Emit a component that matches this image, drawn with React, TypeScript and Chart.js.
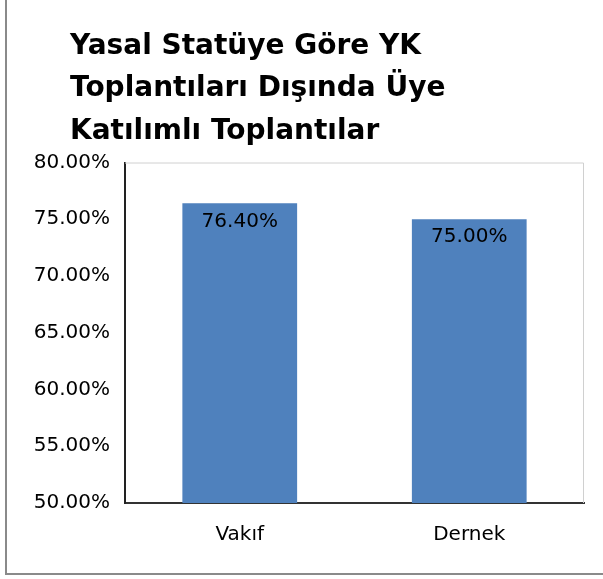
import React, { useEffect, useRef } from "react";
import { Chart, registerables } from "chart.js";

Chart.register(...registerables);

const titleLines = ["Yasal Statüye Göre YK", "Toplantıları Dışında Üye", "Katılımlı Toplantılar"];
const categories = ["Vakıf", "Dernek"];
const values = [0.764, 0.75];
const yMin = 0.5;
const yMax = 0.8;
const yStep = 0.05;

const fmtPct = (v: number) => (v * 100).toFixed(2) + "%";

const titleOffsetPlugin = {
  id: "titleOffset",
  afterLayout(chart: any) {
    if (chart.titleBlock) {
      chart.titleBlock.left = 70;
    }
  },
};

const plotFramePlugin = {
  id: "plotFrame",
  beforeDatasetsDraw(chart: any) {
    const { ctx, chartArea } = chart;
    ctx.save();
    ctx.strokeStyle = "#d0d0d0";
    ctx.lineWidth = 1;
    ctx.beginPath();
    ctx.moveTo(chartArea.left, chartArea.top + 0.5);
    ctx.lineTo(chartArea.right - 0.5, chartArea.top + 0.5);
    ctx.lineTo(chartArea.right - 0.5, chartArea.bottom);
    ctx.stroke();
    ctx.restore();
  },
};

const dataLabelPlugin = {
  id: "dataLabels",
  afterDatasetsDraw(chart: any) {
    const { ctx } = chart;
    const meta = chart.getDatasetMeta(0);
    ctx.save();
    ctx.font = "20px 'DejaVu Sans'";
    ctx.fillStyle = "#000";
    ctx.textAlign = "center";
    ctx.textBaseline = "middle";
    meta.data.forEach((bar: any, i: number) => {
      ctx.fillText(fmtPct(values[i]), bar.x, bar.y + 18);
    });
    ctx.restore();
  },
};

export default function App() {
  const ref = useRef<HTMLCanvasElement>(null);
  useEffect(() => {
    if (!ref.current) return;
    const chart = new Chart(ref.current, {
      type: "bar",
      data: {
        labels: categories,
        datasets: [
          {
            data: values,
            backgroundColor: "#4F81BD",
            borderWidth: 0,
            barPercentage: 0.5,
            categoryPercentage: 1,
          },
        ],
      },
      options: {
        animation: false,
        responsive: false,
        layout: { padding: { left: 0, right: 19, top: 0, bottom: 0 } },
        plugins: {
          legend: { display: false },
          tooltip: { enabled: false },
          title: {
            display: true,
            text: titleLines,
            align: "start",
            color: "#000",
            font: { family: "'DejaVu Sans'", size: 28, weight: "bold", lineHeight: "42.5px" },
            padding: { top: 25, bottom: 10 },
          },
        },
        scales: {
          x: {
            grid: { display: false, drawTicks: false },
            border: { display: true, color: "#333", width: 2 },
            ticks: { color: "#000", padding: 20, font: { family: "'DejaVu Sans'", size: 20 } },
            afterFit: (s: any) => {
              s.height = 76;
            },
          },
          y: {
            min: yMin,
            max: yMax,
            grid: { display: false, drawTicks: false },
            border: { display: true, color: "#222", width: 2 },
            ticks: {
              stepSize: yStep,
              color: "#000",
              padding: 15,
              font: { family: "'DejaVu Sans'", size: 20 },
              callback: (v: any) => fmtPct(Number(v)),
            },
            afterFit: (s: any) => {
              s.width = 125;
            },
          },
        },
      },
      plugins: [titleOffsetPlugin, plotFramePlugin, dataLabelPlugin],
    });
    return () => chart.destroy();
  }, []);

  return (
    <div style={{ position: "fixed", left: 0, top: 0, width: 603, height: 579, background: "#fff", overflow: "hidden" }}>
      <canvas ref={ref} width={603} height={579} style={{ position: "absolute", left: 0, top: 0 }} />
      <div
        style={{
          position: "absolute",
          left: 5,
          top: -2,
          width: 640,
          height: 577,
          border: "2px solid #8a8a8a",
          boxSizing: "border-box",
          pointerEvents: "none",
        }}
      />
    </div>
  );
}
